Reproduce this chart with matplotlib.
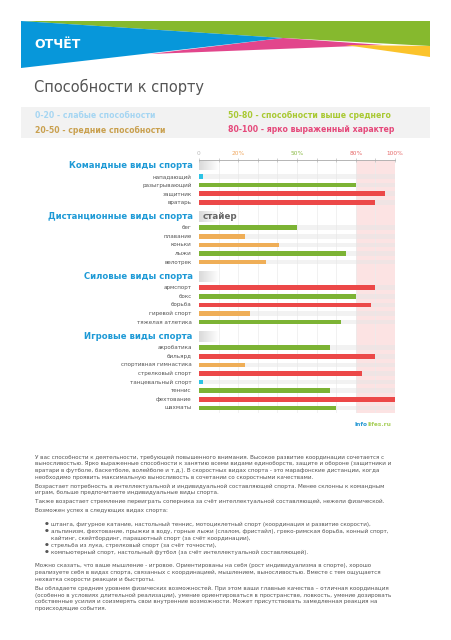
import numpy as np
import matplotlib
matplotlib.use("Agg")
import matplotlib.pyplot as plt
from matplotlib.colors import LinearSegmentedColormap

# chart data
groups = ["Командные виды спорта", "Дистанционные виды спорта",
          "Силовые виды спорта", "Игровые виды спорта"]
team_sports = ["нападающий", "разыгрывающий", "защитник", "вратарь"]
team_values = [2, 80, 95, 90]
distance_sports = ["бег", "плавание", "коньки", "лыжи", "велотрек"]
distance_values = [50, 23.5, 41, 75, 34]
power_sports = ["армспорт", "бокс", "борьба", "гиревой спорт", "тяжелая атлетика"]
power_values = [90, 80, 88, 26, 72.5]
game_sports = ["акробатика", "бильярд", "спортивная гимнастика", "стрелковый спорт",
               "танцевальный спорт", "теннис", "фехтование", "шахматы"]
game_values = [67, 90, 23.5, 83, 2, 67, 100, 70]

tick_values = [0, 20, 50, 80, 100]
tick_labels = ["0", "20%", "50%", "80%", "100%"]
tick_colors = ["#bbbbbb", "#f0a860", "#8cba48", "#e66a6a", "#e66a6a"]

legend_items = ["0-20 - слабые способности", "20-50 - средние способности",
                "50-80 - способности выше среднего", "80-100 - ярко выраженный характер"]
legend_colors = ["#a6d6f2", "#c9a04e", "#a9c933", "#e5487a"]

paragraphs = [
    ["У вас способности к деятельности, требующей повышенного внимания. Высокое развитие координации сочетается с",
     "выносливостью. Ярко выраженные способности к занятию всеми видами единоборств, защите и обороне (защитники и",
     "вратари в футболе, баскетболе, волейболе и т.д.). В скоростных видах спорта - это марафонские дистанции, когда",
     "необходимо проявить максимальную выносливость в сочетании со скоростными качествами."],
    ["Возрастает потребность в интеллектуальной и индивидуальной составляющей спорта. Менее склонны к командным",
     "играм, больше предпочитаете индивидуальные виды спорта."],
    ["Также возрастает стремление переиграть соперника за счёт интеллектуальной составляющей, нежели физической."],
    ["Возможен успех в следующих видах спорта:"],
]
bullets = [
    ["штанга, фигурное катание, настольный теннис, мотоциклетный спорт (координация и развитие скорости),"],
    ["альпинизм, фехтование, прыжки в воду, горные лыжи (слалом, фристайл), греко-римская борьба, конный спорт,",
     "кайтинг, скейтбординг, парашютный спорт (за счёт координации),"],
    ["стрельба из лука, стрелковый спорт (за счёт точности),"],
    ["компьютерный спорт, настольный футбол (за счёт интеллектуальной составляющей)."],
]
paragraphs_end = [
    ["Можно сказать, что ваше мышление - игровое. Ориентированы на себя (рост индивидуализма в спорте), хорошо",
     "реализуете себя в видах спорта, связанных с координацией, мышлением, выносливостью. Вместе с тем ощущается",
     "нехватка скорости реакции и быстроты."],
    ["Вы обладаете средним уровнем физических возможностей. При этом ваши главные качества – отличная координация",
     "(особенно в условиях длительной реализации), умение ориентироваться в пространстве, ловкость, умение дозировать",
     "собственные усилия и соизмерять свои внутренние возможности. Может присутствовать замедленная реакция на",
     "происходящие события."],
]


def bar_color(v):
    if v < 20:
        return "#2cc3e5"
    if v < 50:
        return "#efae57"
    if v <= 80:
        return "#7cb334"
    return "#ec4848"


fig = plt.figure(figsize=(4.52, 6.4), dpi=100)

# page background in pixel coords
bg = fig.add_axes([0, 0, 1, 1])
bg.set_xlim(0, 452)
bg.set_ylim(640, 0)
bg.axis("off")

# banner
bg.fill([21, 430, 430, 283, 21], [21, 21, 46, 38, 21], color="#86b92e", lw=0)
bg.fill([150, 283, 383, 150], [54, 38, 45, 54], color="#e2468c", lw=0)
bg.fill([345, 430, 430], [45, 46, 57], color="#fbc32b", lw=0)
bg.fill([21, 283, 21], [21, 38, 68], color="#0797da", lw=0)
bg.text(34, 45, "ОТЧЁТ", color="white", fontsize=9, fontweight="bold", va="center")

bg.text(34, 87, "Способности к спорту", color="#555555", fontsize=10.5, va="center")

# legend box
bg.add_patch(plt.Rectangle((21, 107), 409, 31, color="#f2f2f2", lw=0))
for i, (txt, col) in enumerate(zip(legend_items, legend_colors)):
    x = 35 if i < 2 else 228
    y = 115.5 if i % 2 == 0 else 130
    bg.text(x, y, txt, color=col, fontsize=5.6, fontweight="bold", va="center")

# chart
ax = fig.add_axes([199 / 452, 1 - 413 / 640, 196 / 452, 253 / 640])
ax.set_facecolor("none")

sections = [(team_sports, team_values), (distance_sports, distance_values),
            (power_sports, power_values), (game_sports, game_values)]
step = 8.6
y = 165.0
header_y = []
names, values, ys = [], [], []
for gi, (labels, vals) in enumerate(sections):
    header_y.append(y)
    y += 11.5
    for lab, v in zip(labels, vals):
        names.append(lab)
        values.append(v)
        ys.append(y)
        y += step
    y += 14 - step

ax.axvspan(80, 100, color="#fce3e3", lw=0, zorder=0)
for gx in range(10, 100, 10):
    ax.axvline(gx, color="#ececec", lw=0.5, zorder=0.5)

grad = np.linspace(0, 1, 50).reshape(1, -1)
gcmap = LinearSegmentedColormap.from_list("g", ["#d6d6d6", "#ffffff"])
for hy in header_y:
    ax.imshow(grad, extent=(0, 10, hy + 5.5, hy - 5.5), cmap=gcmap, aspect="auto",
              zorder=1, alpha=0.9)

ax.barh(ys, [100] * len(ys), height=4.6, color="#e6e6e6", alpha=0.5, lw=0, zorder=2)
ax.barh(ys, values, height=4.6, color=[bar_color(v) for v in values], lw=0, zorder=3)

for lab, yy in zip(names, ys):
    ax.text(-3.7, yy, lab, ha="right", va="center", fontsize=4.1, color="#555555")
for g, hy in zip(groups, header_y):
    ax.text(-3.3, hy, g, ha="right", va="center", fontsize=6.1, fontweight="bold",
            color="#1e9ad6")
ax.text(2, header_y[1], "стайер", ha="left", va="center", fontsize=6.3,
        fontweight="bold", color="#666666", zorder=4)

ax.set_xlim(0, 100)
ax.set_ylim(413, 160)
ax.xaxis.tick_top()
ax.set_xticks(range(0, 101, 10))
ax.set_xticklabels([tick_labels[tick_values.index(t)] if t in tick_values else ""
                    for t in range(0, 101, 10)])
for lbl, t in zip(ax.get_xticklabels(), range(0, 101, 10)):
    if t in tick_values:
        lbl.set_color(tick_colors[tick_values.index(t)])
ax.tick_params(axis="x", direction="inout", length=3.5, width=0.5, color="#bbbbbb",
               labelsize=4.2, pad=1)
ax.set_yticks([])
for s in ["left", "right", "bottom"]:
    ax.spines[s].set_visible(False)
ax.spines["top"].set_color("#aaaaaa")
ax.spines["top"].set_linewidth(0.6)

# site mark
bg.text(355, 424, "Info", color="#2a9ad4", fontsize=4.2, fontweight="bold", va="center")
bg.text(367.5, 424, "lifes.ru", color="#a8cf5a", fontsize=4.2, fontweight="bold", va="center")

# description text
fs = 4.1
tc = "#555555"
y = 457
for para in paragraphs:
    for line in para:
        bg.text(35, y, line, fontsize=fs, color=tc, va="center")
        y += 6.7
    y += 2.3
y += 13.5 - 9.0
for item in bullets:
    bg.text(45, y, "●", fontsize=3.2, color=tc, va="center")
    for line in item:
        bg.text(51.5, y, line, fontsize=fs, color=tc, va="center")
        y += 7
y += 13.7 - 7
for para in paragraphs_end:
    for line in para:
        bg.text(35, y, line, fontsize=fs, color=tc, va="center")
        y += 6.7
    y += 2.3

fig.savefig("out.png", dpi=100)
